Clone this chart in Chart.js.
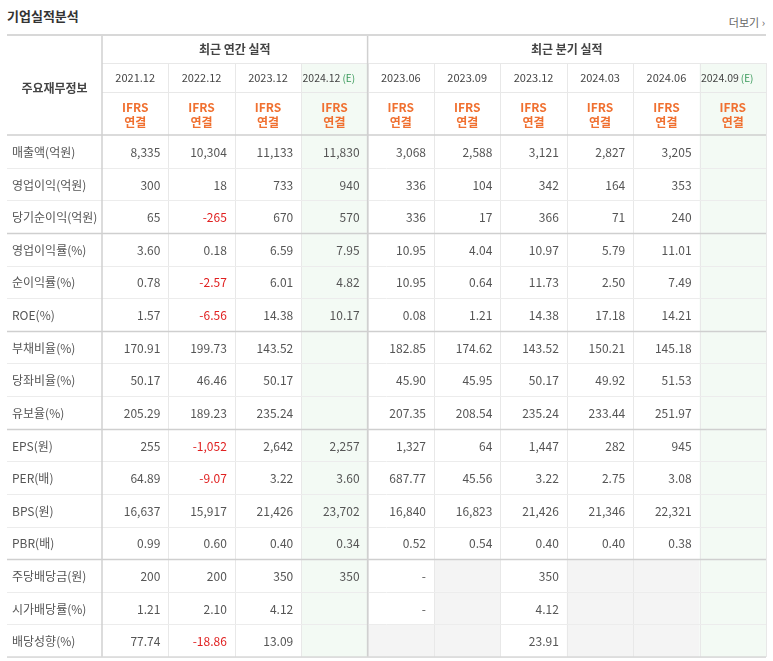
<!DOCTYPE html>
<html><head><meta charset="utf-8">
<script src="https://cdn.jsdelivr.net/npm/chart.js@4/dist/chart.umd.min.js"></script>
<style>
body{margin:0;background:#fff;font-family:"Noto Sans CJK KR","Noto Sans",sans-serif;}
#wrap{position:relative;width:773px;height:661px;}
#title{position:absolute;left:7px;top:6px;font-size:13px;font-weight:bold;color:#333;}
#more{position:absolute;right:8px;top:14px;font-size:11px;color:#666;}
canvas{position:absolute;left:0;top:0;}
</style></head><body>
<div id="wrap"><div id="title">기업실적분석</div><div id="more">더보기 ›</div><canvas id="c" width="773" height="661"></canvas></div>
<script>
const periods=['2021.12','2022.12','2023.12','2024.12','2023.06','2023.09','2023.12','2024.03','2024.06','2024.09'];
const estimate=[false,false,false,true,false,false,false,false,false,true];
const rowLabels=['매출액(억원)','영업이익(억원)','당기순이익(억원)','영업이익률(%)','순이익률(%)','ROE(%)','부채비율(%)','당좌비율(%)','유보율(%)','EPS(원)','PER(배)','BPS(원)','PBR(배)','주당배당금(원)','시가배당률(%)','배당성향(%)'];
const r_sales=['8,335','10,304','11,133','11,830','3,068','2,588','3,121','2,827','3,205',''];
const r_op=['300','18','733','940','336','104','342','164','353',''];
const r_net=['65','-265','670','570','336','17','366','71','240',''];
const r_opm=['3.60','0.18','6.59','7.95','10.95','4.04','10.97','5.79','11.01',''];
const r_npm=['0.78','-2.57','6.01','4.82','10.95','0.64','11.73','2.50','7.49',''];
const r_roe=['1.57','-6.56','14.38','10.17','0.08','1.21','14.38','17.18','14.21',''];
const r_debt=['170.91','199.73','143.52','','182.85','174.62','143.52','150.21','145.18',''];
const r_quick=['50.17','46.46','50.17','','45.90','45.95','50.17','49.92','51.53',''];
const r_reserve=['205.29','189.23','235.24','','207.35','208.54','235.24','233.44','251.97',''];
const r_eps=['255','-1,052','2,642','2,257','1,327','64','1,447','282','945',''];
const r_per=['64.89','-9.07','3.22','3.60','687.77','45.56','3.22','2.75','3.08',''];
const r_bps=['16,637','15,917','21,426','23,702','16,840','16,823','21,426','21,346','22,321',''];
const r_pbr=['0.99','0.60','0.40','0.34','0.52','0.54','0.40','0.40','0.38',''];
const r_dps=['200','200','350','350','-',null,'350',null,null,''];
const r_yield=['1.21','2.10','4.12','','-',null,'4.12',null,null,''];
const r_payout=['77.74','-18.86','13.09','',null,null,'23.91',null,null,''];
const rows=[r_sales,r_op,r_net,r_opm,r_npm,r_roe,r_debt,r_quick,r_reserve,r_eps,r_per,r_bps,r_pbr,r_dps,r_yield,r_payout];
const groupEnds=[2,5,8,12];

const F='"Noto Sans CJK KR","Noto Sans",sans-serif';
const tablePlugin={id:'table',afterDraw(ch){
 const c=ch.ctx,x=ch.scales.x,y=ch.scales.y,a=ch.chartArea;
 const cw=(x.getPixelForValue(1)-x.getPixelForValue(0)),rh=(y.getPixelForValue(1)-y.getPixelForValue(0));
 const L=7,T=35,h1=63,h2=92;
 c.save();
 periods.forEach((p,i)=>{const cx=x.getPixelForValue(i);
  if(estimate[i]){c.fillStyle='#f3faf4';c.fillRect(cx-cw/2,h1,cw,a.bottom-h1);}
  rows.forEach((r,j)=>{if(r[i]===null){const cy=y.getPixelForValue(j);c.fillStyle='#f4f4f4';c.fillRect(cx-cw/2,cy-rh/2,cw,rh);}});
 });
 c.strokeStyle='#e8e8e8';c.lineWidth=1;
 periods.forEach((p,i)=>{const xx=Math.round(x.getPixelForValue(i)+cw/2)+0.5;c.beginPath();c.moveTo(xx,h1);c.lineTo(xx,a.bottom);c.stroke();});
 rows.forEach((r,j)=>{const yy=Math.round(y.getPixelForValue(j)+rh/2)+0.5;c.strokeStyle=groupEnds.includes(j)?'#cfcfcf':'#ececec';c.lineWidth=groupEnds.includes(j)?1.5:1;c.beginPath();c.moveTo(L,yy);c.lineTo(a.right,yy);c.stroke();});
 c.strokeStyle='#e8e8e8';c.lineWidth=1;
 [h1,h2].forEach(v=>{c.beginPath();c.moveTo(a.left,v+0.5);c.lineTo(a.right,v+0.5);c.stroke();});
 c.strokeStyle='#cfcfcf';c.lineWidth=1.5;c.beginPath();c.moveTo(L,a.top);c.lineTo(a.right,a.top);c.stroke();
 c.strokeStyle='#d0d0d0';c.lineWidth=1.5;
 const sep=x.getPixelForValue(3)+cw/2;
 [a.left,sep].forEach(v=>{c.beginPath();c.moveTo(v,T);c.lineTo(v,a.bottom);c.stroke();});
 c.strokeStyle='#d8d8d8';c.lineWidth=2;c.beginPath();c.moveTo(L,T);c.lineTo(a.right,T);c.stroke();
 c.lineWidth=1.5;c.beginPath();c.moveTo(L,a.bottom);c.lineTo(a.right,a.bottom);c.stroke();
 c.textAlign='center';c.textBaseline='middle';c.fillStyle='#444';c.font='bold 12px '+F;
 c.fillText('최근 연간 실적',(a.left+sep)/2,49);c.fillText('최근 분기 실적',(sep+a.right)/2,49);
 c.fillText('주요재무정보',(L+a.left)/2,88);
 periods.forEach((p,i)=>{const cx=x.getPixelForValue(i);
  if(estimate[i]){c.font='10.5px '+F;c.fillStyle='#444';c.textAlign='right';c.fillText(p,cx+6,78);c.fillStyle='#3a9a5a';c.textAlign='left';c.font='10px '+F;c.fillText('(E)',cx+8,78);c.textAlign='center';}
  else{c.font='11px '+F;c.fillStyle='#444';c.fillText(p,cx,78);}
  c.fillStyle='#f07030';c.font='bold 12px '+F;c.fillText('IFRS',cx,107);c.fillText('연결',cx,122);});
 rows.forEach((r,j)=>{const cy=y.getPixelForValue(j)+1;c.textAlign='left';c.fillStyle='#555';c.font='12px '+F;c.fillText(rowLabels[j],12,cy);
  c.textAlign='right';r.forEach((v,i)=>{if(!v)return;c.fillStyle=v.startsWith('-')&&v.length>1?'#e02020':'#555';c.fillText(v,x.getPixelForValue(i)+cw/2-8,cy);});});
 c.restore();
}};
new Chart(document.getElementById('c'),{type:'scatter',data:{labels:periods,datasets:[]},
 options:{responsive:false,animation:false,events:[],layout:{padding:{left:102,top:135,right:7,bottom:4}},
  plugins:{legend:{display:false},tooltip:{enabled:false}},
  scales:{x:{type:'category',labels:periods,offset:true,display:false},
   y:{type:'category',labels:rowLabels,offset:true,display:false}}},
 plugins:[tablePlugin]});
</script></body></html>
